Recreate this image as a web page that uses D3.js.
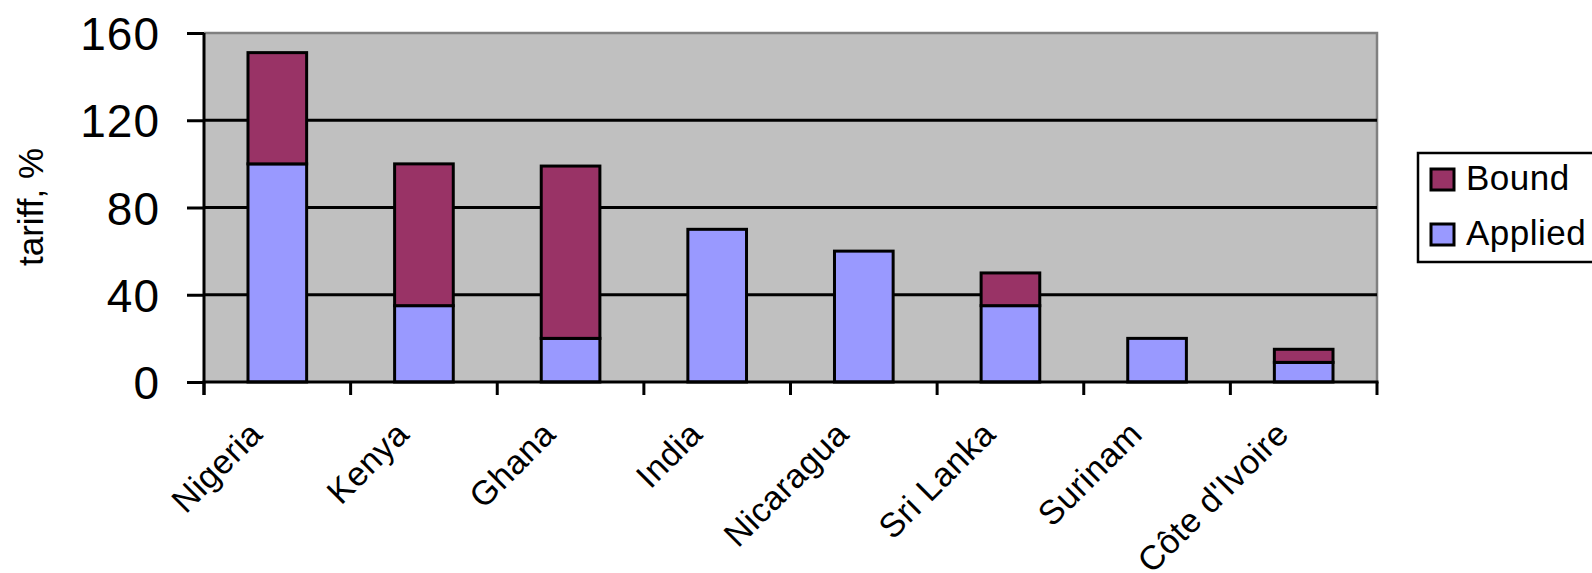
<!DOCTYPE html>
<html lang="en">

<head>
  <meta charset="UTF-8">
  <title>Bound and applied tariffs</title>
  <style>
    body {
      margin: 0;
      background: #fff;
    }

    svg {
      display: block;
      font-family: "Liberation Sans", Arial, sans-serif;
    }
  </style>
</head>

<body>
  <svg width="1592" height="573"></svg>
  <script src="https://d3js.org/d3.v7.min.js"></script>
  <script>
    // tariffs by country, % (bound = ceiling, applied = actual rate)
    var countries = ['Nigeria', 'Kenya', 'Ghana', 'India', 'Nicaragua', 'Sri Lanka', 'Surinam', "Côte d'Ivoire"];
    var applied = [100, 35, 20, 70, 60, 35, 20, 9];
    var bound = [151, 100, 99, 70, 60, 50, 20, 15];
    var yTicks = [0, 40, 80, 120, 160];
    var seriesNames = ['Bound', 'Applied'];
    var seriesColors = { Bound: '#993366', Applied: '#9999ff' };

    var width = 1592;
    var height = 573;
    var margin = { top: 33, right: 215, bottom: 191, left: 204 };

    // stack the applied rate with whatever bound sits above it
    var rows = countries.map((c, i) => ({
      country: c,
      Applied: applied[i],
      Bound: Math.max(0, bound[i] - applied[i])
    }));
    var stacked = d3.stack().keys(['Applied', 'Bound'])(rows);

    var xScale = d3.scaleBand()
      .domain(countries)
      .range([margin.left, width - margin.right])
      .paddingInner(0.6)
      .paddingOuter(0.3);
    var yScale = d3.scaleLinear()
      .domain([0, 160])
      .range([height - margin.bottom, margin.top]);

    var svg = d3.select('svg');
    var x0 = margin.left, x1 = width - margin.right;
    var y0 = height - margin.bottom;

    // plot area
    svg.append('rect')
      .attr('x', x0)
      .attr('y', margin.top)
      .attr('width', x1 - x0)
      .attr('height', y0 - margin.top)
      .style('fill', '#c0c0c0');
    svg.append('path')
      .attr('d', 'M' + x0 + ',' + margin.top + 'H' + x1 + 'V' + y0)
      .style('fill', 'none')
      .style('stroke', '#808080')
      .style('stroke-width', 2.5);

    // gridlines
    svg.append('g')
      .selectAll('line')
      .data(yTicks.filter(t => t > 0 && t < 160))
      .join('line')
      .attr('x1', x0)
      .attr('x2', x1)
      .attr('y1', d => yScale(d))
      .attr('y2', d => yScale(d))
      .style('stroke', '#000')
      .style('stroke-width', 3);

    // bars
    svg.append('g')
      .selectAll('g')
      .data(stacked)
      .join('g')
      .style('fill', d => seriesColors[d.key])
      .selectAll('rect')
      .data(d => d.filter(p => p[1] > p[0]))
      .join('rect')
      .attr('x', d => xScale(d.data.country))
      .attr('width', xScale.bandwidth())
      .attr('y', d => yScale(d[1]))
      .attr('height', d => yScale(d[0]) - yScale(d[1]))
      .style('stroke', '#000')
      .style('stroke-width', 3);

    // y axis
    var yAxis = d3.axisLeft(yScale)
      .tickValues(yTicks)
      .tickSize(17)
      .tickPadding(27);
    var gy = svg.append('g')
      .attr('transform', 'translate(' + [x0, 0] + ')')
      .call(yAxis);
    gy.select('.domain').attr('d', 'M0,' + margin.top + 'V' + (y0 + 13));
    gy.selectAll('path, line').style('stroke', '#000').style('stroke-width', 3);
    gy.selectAll('text')
      .style('font-size', '46px')
      .style('letter-spacing', '1px')
      .style('fill', '#000')
      .attr('dy', '0.36em');

    // x axis: ticks sit between categories
    var step = xScale.step();
    var gx = svg.append('g');
    gx.append('line')
      .attr('x1', x0 - 1.5)
      .attr('x2', x1 + 1.5)
      .attr('y1', y0)
      .attr('y2', y0)
      .style('stroke', '#000')
      .style('stroke-width', 3);
    gx.selectAll('line.tick')
      .data(d3.range(countries.length + 1))
      .join('line')
      .attr('class', 'tick')
      .attr('x1', i => x0 + i * step)
      .attr('x2', i => x0 + i * step)
      .attr('y1', y0)
      .attr('y2', y0 + 13)
      .style('stroke', '#000')
      .style('stroke-width', 3);
    gx.selectAll('text')
      .data(countries)
      .join('text')
      .attr('transform', d => 'translate(' + [xScale(d) + xScale.bandwidth() / 2 - 13, y0 + 54] + ') rotate(-45)')
      .attr('text-anchor', 'end')
      .style('font-size', '34px')
      .style('letter-spacing', '0.5px')
      .style('fill', '#000')
      .text(d => d);

    // axis title
    svg.append('text')
      .attr('transform', 'translate(' + [43, 207] + ') rotate(-90)')
      .attr('text-anchor', 'middle')
      .style('font-size', '35px')
      .style('fill', '#000')
      .text('tariff, %');

    // legend
    var legend = svg.append('g');
    legend.append('rect')
      .attr('x', 1418)
      .attr('y', 153)
      .attr('width', 200)
      .attr('height', 109)
      .style('fill', '#fff')
      .style('stroke', '#000')
      .style('stroke-width', 2.5);
    var items = legend.selectAll('g')
      .data(seriesNames)
      .join('g')
      .attr('transform', (d, i) => 'translate(' + [1431, 169 + i * 55] + ')');
    items.append('rect')
      .attr('width', 23)
      .attr('height', 21)
      .style('fill', d => seriesColors[d])
      .style('stroke', '#000')
      .style('stroke-width', 3);
    items.append('text')
      .attr('x', 35)
      .attr('y', 21)
      .style('font-size', '35px')
      .style('letter-spacing', '0.5px')
      .style('fill', '#000')
      .text(d => d);
  </script>
</body>

</html>
